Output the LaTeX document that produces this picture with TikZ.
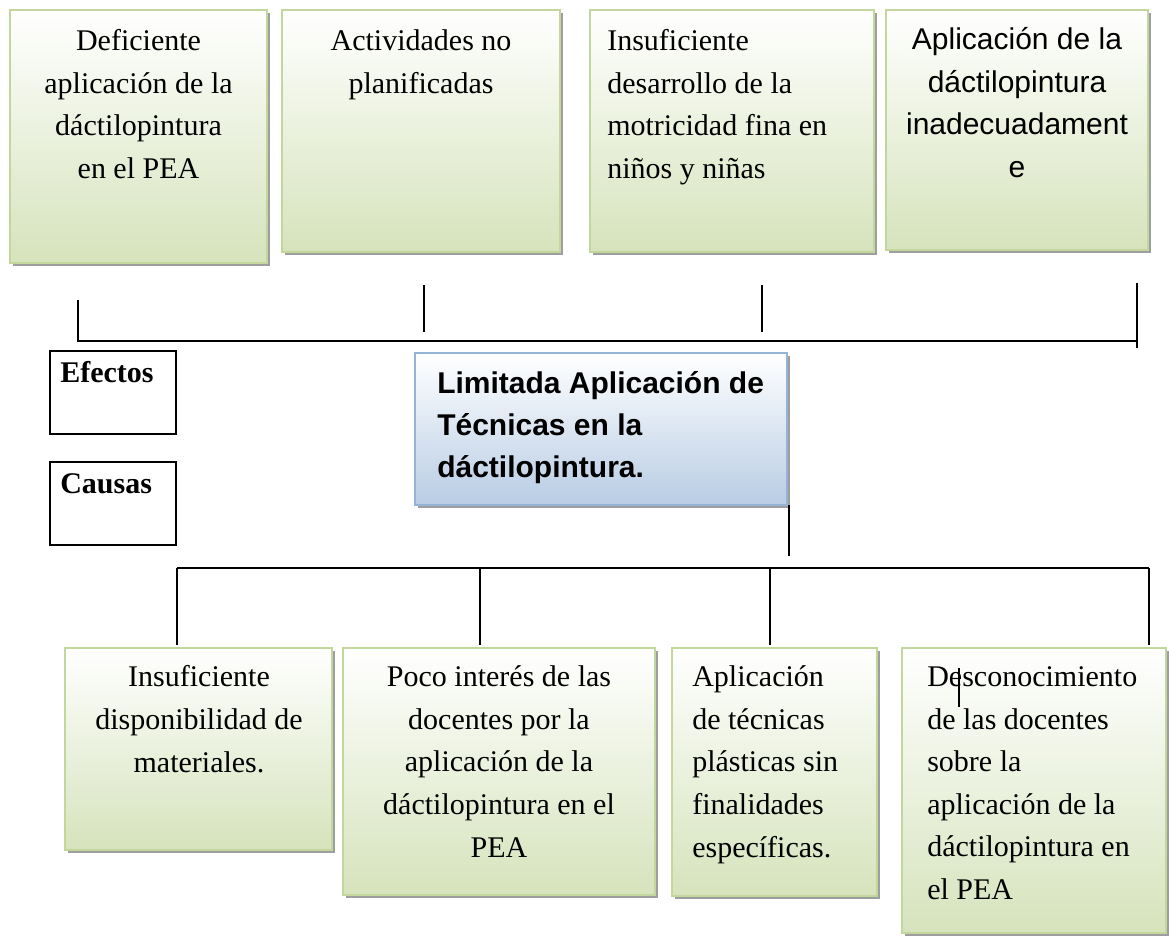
\documentclass[tikz,border=0pt]{standalone}
\usepackage{fontspec}
\setmainfont{Liberation Serif}
\newfontfamily\arialfont{Liberation Sans}
\usetikzlibrary{fit,shadows}

\definecolor{verdeborde}{RGB}{195,214,155}
\definecolor{verdefondo}{RGB}{214,227,188}
\definecolor{azulborde}{RGB}{149,179,215}
\definecolor{azulfondo}{RGB}{184,204,228}
\definecolor{sombra}{RGB}{158,158,158}

\tikzset{
  cajaverde/.style={draw=verdeborde, line width=1.5pt, top color=white, bottom color=verdefondo,
    inner sep=0pt, drop shadow={shadow xshift=2.25pt, shadow yshift=-2.25pt, fill=sombra, opacity=1}},
  cajaazul/.style={cajaverde, draw=azulborde, bottom color=azulfondo},
  etiqueta/.style={draw=black, line width=1pt, fill=white, inner sep=0pt},
  linea/.style={line width=1.5pt},
  texto/.style={inner sep=0pt, align=center, font=\fontsize{22.5}{31.9}\selectfont},
  textoizq/.style={texto, align=left},
  textoarial/.style={texto, font=\arialfont\fontsize{22.5}{31.9}\selectfont},
  negrita/.style={texto, align=left, font=\bfseries\fontsize{22.5}{31.9}\selectfont},
}

\begin{document}
\begin{tikzpicture}[x=0.75pt,y=0.75pt,yscale=-1,xscale=1]
    \path[use as bounding box, fill=white] (0,0) rectangle (1169,936);

    % Efectos
    \node[cajaverde, fit={(10,10) (267,263)}] (ef1) {};
    \node[cajaverde, fit={(282,10) (560,252)}] (ef2) {};
    \node[cajaverde, fit={(590,10) (874,252)}] (ef3) {};
    \node[cajaverde, fit={(886,10) (1148,250)}] (ef4) {};

    % Text Node (base = last line)
    \node[texto, anchor=base] (ef1-t) at (138.5,178.5) {Deficiente\\aplicación de la\\dáctilopintura\\en el PEA};
    \node[texto, anchor=base] (ef2-t) at (421,93.5) {Actividades no\\planificadas};
    \node[textoizq, anchor=base west] (ef3-t) at (607,178.5) {Insuficiente\\desarrollo de la\\motricidad fina en\\niños y niñas};
    \node[textoarial, anchor=base] (ef4-t) at (1017,177.5) {Aplicación de la\\dáctilopintura\\inadecuadament\\e};

    %Straight Lines
    \coordinate (e1) at (78,341);
    \coordinate (e4) at (1137,341);
    \draw[linea] (78,300) -- (e1) -- (e4);
    \draw[linea] (1137,283) -- (1137,348);
    \draw[linea] (424,285) -- (424,332);
    \draw[linea] (762,285) -- (762,332);

    % Efectos / Causas
    \node[etiqueta, fit={(50,351) (176,434)}] (efectos) {};
    \node[negrita, anchor=base west] (efectos-t) at (60,382) {Efectos};
    \node[etiqueta, fit={(50,462) (176,545)}] (causas) {};
    \node[negrita, anchor=base west] (causas-t) at (60,493) {Causas};

    % problema central
    \node[cajaazul, fit={(415,353) (787,505)}] (prob) {};
    \node[negrita, anchor=base west, font=\arialfont\bfseries\fontsize{22.5}{31.5}\selectfont] (prob-t) at (437,477) {Limitada Aplicación de\\Técnicas en la\\dáctilopintura.};

    \coordinate (p1) at (789,505);
    \coordinate (p2) at (789,556);
    \draw[linea] (p1) -- (p2);

    %Straight Lines
    \coordinate (c1) at (177,568);
    \coordinate (c4) at (1149,568);
    \draw[linea] (c1) -- (c4);
    \draw[linea] (c1) -- (177,645);
    \draw[linea] (480,568) -- (480,645);
    \draw[linea] (770,568) -- (770,645);
    \draw[linea] (c4) -- (1149,645);

    % Causas
    \node[cajaverde, fit={(65,648) (332,850)}] (ca1) {};
    \node[cajaverde, fit={(343,648) (655,895)}] (ca2) {};
    \node[cajaverde, fit={(672,648) (877,896)}] (ca3) {};
    \node[cajaverde, fit={(902,648) (1166,933)}] (ca4) {};

    % Text Node (base = last line)
    \node[texto, anchor=base] (ca1-t) at (199,772) {Insuficiente\\disponibilidad de\\materiales.};
    \node[texto, anchor=base] (ca2-t) at (499,857) {Poco interés de las\\docentes por la\\aplicación de la\\dáctilopintura en el\\PEA};
    \node[textoizq, anchor=base west] (ca3-t) at (692,857) {Aplicación\\de técnicas\\plásticas sin\\finalidades\\específicas.};
    \node[textoizq, anchor=base west] (ca4-t) at (927,899.5) {Desconocimiento\\de las docentes\\sobre la\\aplicación de la\\dáctilopintura en\\el PEA};

    \draw[line width=0.8pt] (959,668) -- (959,707);

\end{tikzpicture}
\end{document}
